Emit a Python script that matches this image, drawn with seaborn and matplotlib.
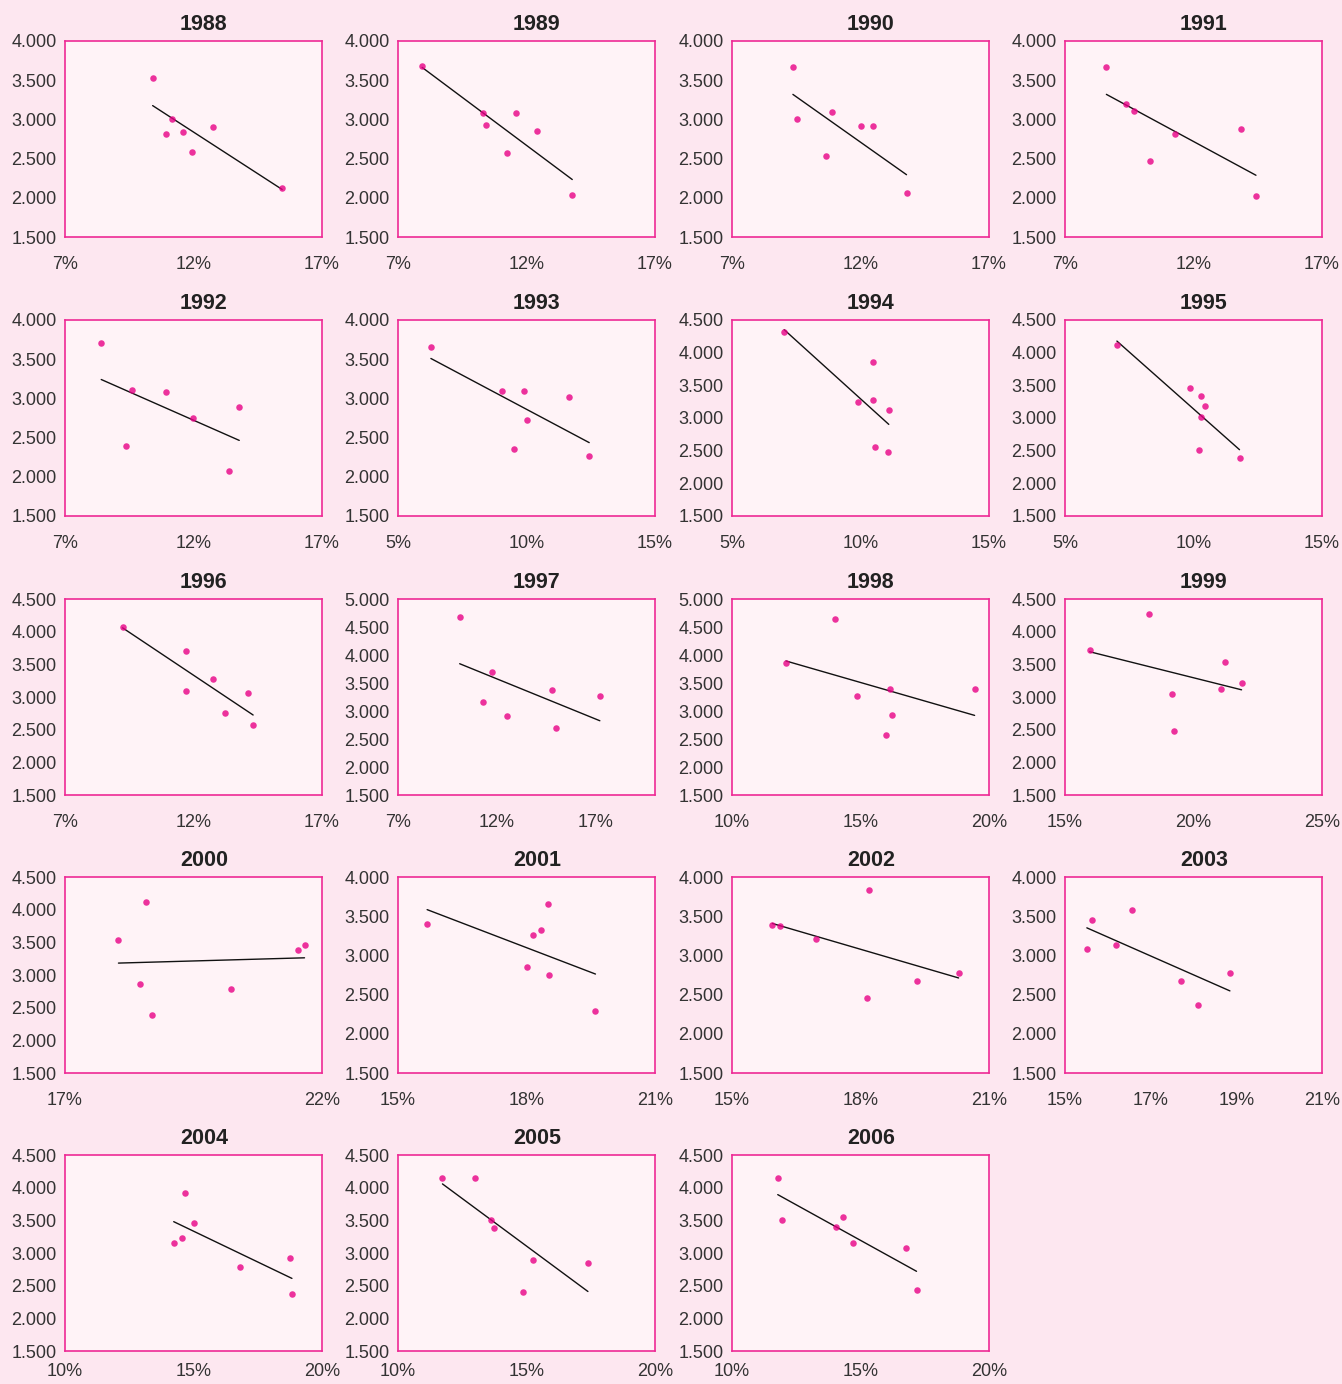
import numpy as np
import pandas as pd
import seaborn as sns
import matplotlib
matplotlib.use("Agg")
import matplotlib.pyplot as plt
from matplotlib.ticker import FuncFormatter, FixedLocator, MultipleLocator

# %%
# values: x = rate (%), y = level
years = [1988, 1989, 1990, 1991, 1992, 1993, 1994, 1995, 1996, 1997,
         1998, 1999, 2000, 2001, 2002, 2003, 2004, 2005, 2006]

rate_1988 = [10.41, 10.93, 11.17, 11.60, 11.96, 12.76, 15.45]
level_1988 = [3.53, 2.82, 3.01, 2.84, 2.58, 2.90, 2.13]
rate_1989 = [7.94, 10.29, 10.44, 11.23, 11.58, 12.42, 13.78]
level_1989 = [3.68, 3.08, 2.93, 2.57, 3.08, 2.85, 2.04]
rate_1990 = [9.37, 9.53, 10.64, 10.91, 12.00, 12.48, 13.79]
level_1990 = [3.67, 3.01, 2.53, 3.10, 2.91, 2.91, 2.06]
rate_1991 = [8.61, 9.37, 9.70, 10.32, 11.28, 13.85, 14.43]
level_1991 = [3.67, 3.20, 3.11, 2.47, 2.82, 2.88, 2.02]
rate_1992 = [8.41, 9.37, 9.61, 10.92, 11.97, 13.39, 13.78]
level_1992 = [3.71, 2.39, 3.11, 3.08, 2.75, 2.07, 2.89]
rate_1993 = [6.28, 9.04, 9.51, 9.92, 10.01, 11.64, 12.44]
level_1993 = [3.65, 3.10, 2.36, 3.10, 2.73, 3.02, 2.27]
rate_1994 = [7.03, 9.91, 10.47, 10.47, 10.55, 11.06, 11.10]
level_1994 = [4.32, 3.24, 3.85, 3.28, 2.55, 2.48, 3.13]
rate_1995 = [7.02, 9.87, 10.31, 10.43, 10.30, 10.20, 11.79]
level_1995 = [4.11, 3.46, 3.34, 3.18, 3.01, 2.51, 2.39]
rate_1996 = [9.24, 11.71, 11.71, 12.75, 13.23, 14.11, 14.32]
level_1996 = [4.07, 3.71, 3.09, 3.27, 2.76, 3.06, 2.57]
rate_1997 = [10.12, 11.30, 11.73, 12.52, 14.81, 15.01, 17.21]
level_1997 = [4.67, 3.16, 3.69, 2.91, 3.38, 2.70, 3.26]
rate_1998 = [12.10, 14.02, 14.85, 16.01, 16.16, 16.24, 19.44]
level_1998 = [3.86, 4.64, 3.26, 2.58, 3.40, 2.92, 3.40]
rate_1999 = [15.96, 18.26, 19.17, 19.24, 21.06, 21.21, 21.87]
level_1999 = [3.72, 4.27, 3.04, 2.48, 3.13, 3.53, 3.21]
rate_2000 = [18.04, 18.46, 18.58, 18.70, 20.23, 21.53, 21.66]
level_2000 = [3.53, 2.86, 4.11, 2.39, 2.78, 3.39, 3.46]
rate_2001 = [15.68, 18.00, 18.15, 18.35, 18.50, 18.53, 19.61]
level_2001 = [3.40, 2.85, 3.26, 3.32, 3.65, 2.75, 2.29]
rate_2002 = [15.94, 16.13, 16.96, 18.20, 18.16, 19.31, 20.29]
level_2002 = [3.39, 3.38, 3.21, 3.83, 2.46, 2.67, 2.77]
rate_2003 = [15.51, 15.63, 16.18, 16.57, 17.70, 18.10, 18.85]
level_2003 = [3.08, 3.45, 3.13, 3.58, 2.67, 2.37, 2.78]
rate_2004 = [14.23, 14.55, 14.65, 15.03, 16.80, 18.75, 18.83]
level_2004 = [3.16, 3.23, 3.92, 3.46, 2.79, 2.93, 2.37]
rate_2005 = [11.73, 12.98, 13.63, 13.73, 14.86, 15.26, 17.39]
level_2005 = [4.15, 4.15, 3.50, 3.38, 2.40, 2.90, 2.84]
rate_2006 = [11.78, 11.93, 14.05, 14.33, 14.70, 16.78, 17.18]
level_2006 = [4.15, 3.51, 3.40, 3.55, 3.16, 3.07, 2.44]

rates = [rate_1988, rate_1989, rate_1990, rate_1991, rate_1992, rate_1993,
         rate_1994, rate_1995, rate_1996, rate_1997, rate_1998, rate_1999,
         rate_2000, rate_2001, rate_2002, rate_2003, rate_2004, rate_2005,
         rate_2006]
levels = [level_1988, level_1989, level_1990, level_1991, level_1992,
          level_1993, level_1994, level_1995, level_1996, level_1997,
          level_1998, level_1999, level_2000, level_2001, level_2002,
          level_2003, level_2004, level_2005, level_2006]

# axis scales per panel (min %, max %, tick step) and top of y axis
x_min = [7, 7, 7, 7, 7, 5, 5, 5, 7, 7, 10, 15, 17, 15, 15, 15, 10, 10, 10]
x_max = [17, 17, 17, 17, 17, 15, 15, 15, 17, 20, 20, 25, 22, 21, 21, 21, 20, 20, 20]
x_step = [5, 5, 5, 5, 5, 5, 5, 5, 5, 5, 5, 5, 5, 3, 3, 2, 5, 5, 5]
y_top = [4.0, 4.0, 4.0, 4.0, 4.0, 4.0, 4.5, 4.5, 4.5, 5.0,
         5.0, 4.5, 4.5, 4.0, 4.0, 4.0, 4.5, 4.5, 4.5]
y_bottom = 1.5

# %%
rows = []
for yr, xs, ys in zip(years, rates, levels):
    for x, y in zip(xs, ys):
        rows.append({"year": yr, "rate": x, "level": y})
df = pd.DataFrame(rows)

bg = "#fde7f0"
panel_bg = "#fff3f7"
edge = "#ee2a95"
dot = "#e80086"

sns.set_theme(style="white")
plt.rcParams["font.family"] = ["Liberation Sans", "DejaVu Sans"]

W, H = 1342, 1384
fig = plt.figure(figsize=(W / 100, H / 100), dpi=100, facecolor=bg)

col_left = [65, 398, 732, 1065]
row_top = [41, 320, 599, 877, 1155]
pw, ph = 257, 196

for i, yr in enumerate(years):
    r, c = divmod(i, 4)
    ax = fig.add_axes([col_left[c] / W, 1 - (row_top[r] + ph) / H, pw / W, ph / H])
    ax.set_facecolor(panel_bg)
    sub = df[df["year"] == yr]
    sns.regplot(data=sub, x="rate", y="level", ax=ax, ci=None, truncate=True,
                scatter_kws={"s": 22, "color": dot, "linewidths": 0, "zorder": 3},
                line_kws={"color": "#111111", "lw": 1.0, "zorder": 2})
    ax.set_xlim(x_min[i], x_max[i])
    ax.set_ylim(y_bottom, y_top[i])
    ax.xaxis.set_major_locator(FixedLocator(np.arange(x_min[i], x_max[i] + 0.01, x_step[i])))
    ax.yaxis.set_major_locator(MultipleLocator(0.5))
    ax.xaxis.set_major_formatter(FuncFormatter(lambda v, p: f"{v:.0f}%"))
    ax.yaxis.set_major_formatter(FuncFormatter(lambda v, p: f"{v:.3f}"))
    ax.set_xlabel("")
    ax.set_ylabel("")
    for s in ax.spines.values():
        s.set_color(edge)
        s.set_linewidth(1.2)
    ax.tick_params(axis="both", direction="in", length=3, color=edge,
                   labelsize=13, labelcolor="#333333")
    # bottom row sits close to the figure edge, keep its labels inside
    ax.tick_params(axis="x", pad=14 if r < 4 else 9)
    ax.tick_params(axis="y", pad=6)
    ax.set_title(str(yr), fontsize=15.5, fontweight="bold", color="#222222",
                 x=0.54, pad=8)

fig.savefig("out.png", dpi=100, facecolor=bg)
